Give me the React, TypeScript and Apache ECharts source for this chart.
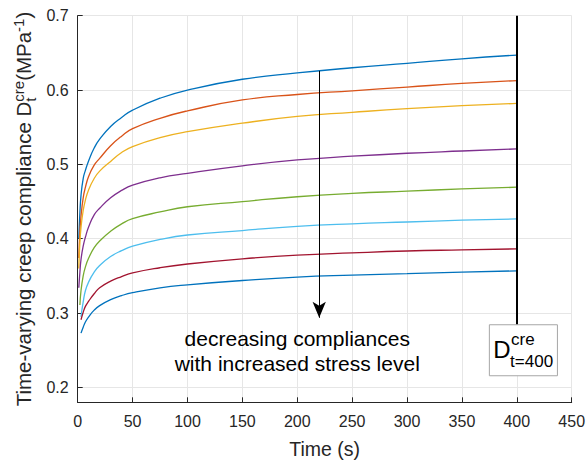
import React, { useEffect, useRef } from 'react';
import * as echarts from 'echarts';

// time (s)
const TIME = [1, 2, 3, 5, 7, 10, 15, 20, 30, 40, 50, 75, 100, 150, 200, 250, 300, 350, 400];
// creep compliance curves (MPa^-1), from highest to lowest
const S1 = [0.400, 0.435, 0.458, 0.481, 0.492, 0.505, 0.522, 0.534, 0.551, 0.563, 0.573, 0.589, 0.600, 0.6145, 0.623, 0.630, 0.636, 0.642, 0.647];
const S2 = [0.374, 0.410, 0.430, 0.455, 0.469, 0.484, 0.499, 0.508, 0.525, 0.538, 0.548, 0.562, 0.572, 0.5867, 0.594, 0.599, 0.604, 0.609, 0.6127];
const S3 = [0.360, 0.395, 0.415, 0.438, 0.452, 0.466, 0.481, 0.491, 0.504, 0.516, 0.524, 0.536, 0.544, 0.5554, 0.5645, 0.570, 0.575, 0.579, 0.582];
const S4 = [0.334, 0.355, 0.372, 0.390, 0.402, 0.416, 0.432, 0.441, 0.455, 0.465, 0.472, 0.482, 0.488, 0.498, 0.506, 0.511, 0.515, 0.518, 0.5208];
const S5 = [null, 0.311, 0.330, 0.350, 0.362, 0.374, 0.388, 0.397, 0.410, 0.420, 0.427, 0.436, 0.443, 0.450, 0.4565, 0.461, 0.464, 0.467, 0.4693];
const S6 = [null, null, 0.295, 0.315, 0.330, 0.342, 0.355, 0.364, 0.376, 0.384, 0.390, 0.399, 0.405, 0.411, 0.4165, 0.420, 0.4225, 0.425, 0.4267];
const S7 = [null, null, 0.291, 0.301, 0.309, 0.316, 0.326, 0.334, 0.343, 0.349, 0.354, 0.361, 0.366, 0.373, 0.378, 0.381, 0.3835, 0.385, 0.3864];
const S8 = [null, null, 0.273, 0.281, 0.288, 0.295, 0.304, 0.310, 0.318, 0.3235, 0.3275, 0.334, 0.338, 0.3438, 0.3484, 0.351, 0.353, 0.355, 0.3568];
const SERIES = [S1, S2, S3, S4, S5, S6, S7, S8];
const COLORS = ['#0072BD', '#D95319', '#EDB120', '#7E2F8E', '#77AC30', '#4DBEEE', '#A2142F', '#0072BD'];

// axes
const X_MIN = 0, X_MAX = 450, X_STEP = 50;
const Y_MIN = 0.18, Y_MAX = 0.7;

// annotations (data units)
const ARROW_T = 220, ARROW_FROM = 0.6258, ARROW_TO = 0.2937;
const REF_T = 400;
const BOX = { t0: 375, t1: 437, vTop: 0.2843, vBottom: 0.2157 };
const NOTE_T = 200, NOTE_V1 = 0.2565, NOTE_V2 = 0.222;
const NOTE_LINES = ['decreasing compliances', 'with increased stress level'];

const FONT = 'Arial';
const INK = '#262626';

function textWidth(text: string, fs: number): number {
  const c = document.createElement('canvas').getContext('2d');
  if (!c) return text.length * fs * 0.5;
  c.font = `${fs}px ${FONT}`;
  return c.measureText(text).width;
}

// place text by its alphabetic baseline (svg "central" ~ 0.3465em above baseline)
function txt(text: string, x: number, baseline: number, fs: number, align = 'left', z = 100) {
  return {
    type: 'text', x, y: baseline - 0.3465 * fs, z,
    style: { text, fontSize: fs, fontFamily: FONT, fill: '#000', align, verticalAlign: 'middle', textAlign: align, textVerticalAlign: 'middle' },
  };
}

export default function App() {
  const ref = useRef<HTMLDivElement>(null);
  useEffect(() => {
    if (!ref.current) return;
    const chart = echarts.init(ref.current, null, { renderer: 'svg' });
    const series: any[] = SERIES.map((vals, i) => ({
      type: 'line',
      data: TIME.map((t, k) => (vals[k] == null ? null : [t, vals[k]])).filter((d) => d !== null),
      showSymbol: false,
      smooth: 0.5,
      lineStyle: { color: COLORS[i], width: 1.3 },
      itemStyle: { color: COLORS[i] },
      z: 3,
    }));
    series[0].markLine = {
      silent: true,
      animation: false,
      label: { show: false },
      data: [
        [
          { coord: [ARROW_T, ARROW_FROM], symbol: 'none' },
          { coord: [ARROW_T, ARROW_TO], symbol: 'arrow', symbolSize: [10, 16] },
        ],
        [
          { coord: [REF_T, Y_MAX], symbol: 'none', lineStyle: { width: 2 } },
          { coord: [REF_T, BOX.vTop], symbol: 'none' },
        ],
      ],
      lineStyle: { color: '#000', width: 1, type: 'solid' },
    };
    chart.setOption({
      animation: false,
      textStyle: { fontFamily: FONT },
      grid: { left: 77.7, right: 15.3, top: 15.7, bottom: 57.7, outerBoundsMode: 'none', containLabel: false },
      xAxis: {
        type: 'value', min: X_MIN, max: X_MAX, interval: X_STEP,
        name: 'Time (s)', nameLocation: 'middle', nameGap: 37,
        nameTextStyle: { fontSize: 19.5, color: INK, fontFamily: FONT },
        axisLine: { show: true, lineStyle: { color: INK, width: 1 } },
        axisTick: { show: true, inside: true, length: 5, lineStyle: { color: INK } },
        axisLabel: { fontSize: 16, color: INK, margin: 11, fontFamily: FONT },
        splitLine: { show: true, lineStyle: { color: '#e6e6e6', width: 1 } },
      },
      yAxis: {
        type: 'value', min: Y_MIN, max: Y_MAX, splitNumber: 5,
        axisLine: { show: true, lineStyle: { color: INK, width: 1 } },
        axisTick: { show: true, inside: true, length: 5, lineStyle: { color: INK } },
        axisLabel: {
          fontSize: 16, color: INK, margin: 9, fontFamily: FONT,
          formatter: (v: number) => (Math.abs(v * 10 - Math.round(v * 10)) < 1e-6 ? v.toFixed(1) : ''),
        },
        splitLine: { show: true, lineStyle: { color: '#e6e6e6', width: 1 } },
      },
      series,
    });

    const px = (t: number, v: number) => chart.convertToPixel({ gridIndex: 0 }, [t, v]) as number[];

    // y-axis label, rotated, with super/subscripts
    const FS = 20.5, FSS = 15;
    const segs: { t: string; fs: number; dy: number; adv: boolean }[] = [
      { t: 'Time-varying creep compliance D', fs: FS, dy: 0, adv: true },
      { t: 'cre', fs: FSS, dy: -7, adv: false },
      { t: 't', fs: FSS, dy: 5, adv: false },
      { t: '(MPa', fs: FS, dy: 0, adv: true },
      { t: '-1', fs: FSS, dy: -7, adv: true },
      { t: ')', fs: FS, dy: 0, adv: true },
    ];
    const stackW = Math.max(textWidth('cre', FSS), textWidth('t', FSS));
    let total = 0;
    segs.forEach((s) => { total += s.adv ? textWidth(s.t, s.fs) : 0; });
    total += stackW;
    let cx = -total / 2;
    const yChildren: any[] = [];
    segs.forEach((s, i) => {
      yChildren.push(txt(s.t, cx, s.dy, s.fs));
      if (s.adv) cx += textWidth(s.t, s.fs);
      if (i === 2) cx += stackW;
    });
    const gTop = px(0, Y_MAX)[1], gBot = px(0, Y_MIN)[1];

    const b0 = px(BOX.t0, BOX.vTop), b1 = px(BOX.t1, BOX.vBottom);
    const n1 = px(NOTE_T, NOTE_V1), n2 = px(NOTE_T, NOTE_V2);

    chart.setOption({
      graphic: [
        { type: 'group', x: 31, y: (gTop + gBot) / 2, rotation: Math.PI / 2, children: yChildren.map((c) => ({ ...c, style: { ...c.style, fill: INK } })) },
        {
          type: 'rect', z: 99,
          shape: { x: b0[0], y: b0[1], width: b1[0] - b0[0], height: b1[1] - b0[1] },
          style: { fill: '#fff', stroke: '#a6a6a6', lineWidth: 1 },
        },
        txt('D', b0[0] + 4, b0[1] + 33.3, 24),
        txt('cre', b0[0] + 21.7, b0[1] + 21, 17),
        txt('t=400', b0[0] + 20.7, b0[1] + 42.3, 17),
        txt(NOTE_LINES[0], n1[0], n1[1], 21, 'center'),
        txt(NOTE_LINES[1], n2[0], n2[1], 21, 'center'),
      ],
    });
    return () => chart.dispose();
  }, []);
  return <div ref={ref} style={{ position: 'absolute', left: 0, top: 0, width: 587, height: 460 }} />;
}
